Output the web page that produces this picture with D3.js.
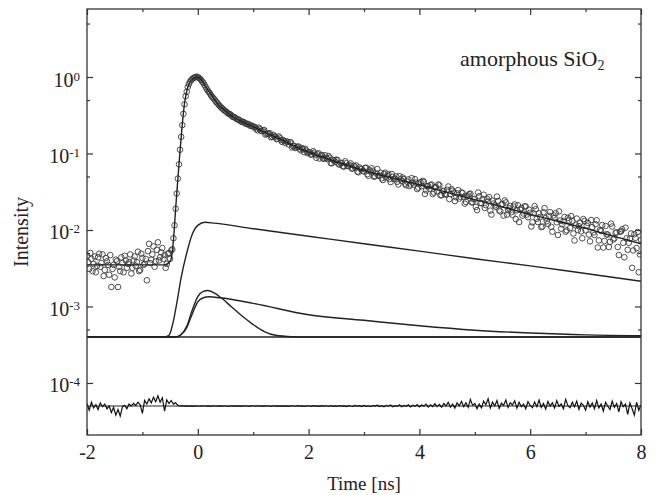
<!DOCTYPE html>
<html lang="en">
<head>
  <meta charset="UTF-8">
  <title>Decay of amorphous SiO2</title>
  <style>
    html, body { margin: 0; padding: 0; background: #fff; }
    svg { display: block; font-family: "Liberation Serif", "Times New Roman", serif; }
  </style>
</head>
<body>
  <svg id="svg" width="657" height="495"></svg>

  <script src="https://cdn.jsdelivr.net/npm/d3@7"></script>
  <script>
    // axis ticks
    const xTicks = [-2, 0, 2, 4, 6, 8];
    const xMinorTicks = [-1, 1, 3, 5, 7];
    const yTicks = [1, 1e-1, 1e-2, 1e-3, 1e-4];
    const yTickExp = ['0', '-1', '-2', '-3', '-4'];
    const yMinorTicks = [5, 0.5, 0.05, 0.005, 5e-4];

    // measured points, every 0.04 ns, two interleaved runs (offset 0.02 ns)
    const dataStep = 0.04;
    const preRiseT0 = -2.0;
    const preRise = [
      4.6e-3, 3.1e-3, 4.2e-3, 3.6e-3, 2.8e-3, 4.4e-3, 3.3e-3, 4.8e-3, 3.0e-3, 3.9e-3,
      2.6e-3, 1.8e-3, 3.5e-3, 4.1e-3, 1.8e-3, 2.9e-3, 3.7e-3, 4.6e-3, 3.2e-3, 3.8e-3,
      2.7e-3, 4.0e-3, 3.4e-3, 5.2e-3, 3.0e-3, 4.3e-3, 3.6e-3, 2.2e-3, 6.6e-3, 4.1e-3,
      6.1e-3, 3.9e-3, 6.9e-3, 4.4e-3, 5.8e-3, 4.7e-3, 3.6e-3, 5.0e-3, 5.4e-3
    ];
    const preRiseBT0 = -1.98;
    const preRiseB = [
      3.8e-3, 5.0e-3, 2.9e-3, 4.5e-3, 3.4e-3, 4.9e-3, 3.7e-3, 2.5e-3, 4.3e-3, 3.5e-3,
      4.7e-3, 3.1e-3, 2.4e-3, 3.9e-3, 3.3e-3, 4.4e-3, 2.8e-3, 4.0e-3, 3.6e-3, 4.8e-3,
      3.2e-3, 4.5e-3, 3.8e-3, 2.9e-3, 4.9e-3, 3.5e-3, 4.2e-3, 5.3e-3, 3.7e-3, 4.8e-3,
      3.3e-3, 5.5e-3, 4.0e-3, 5.1e-3, 4.2e-3, 3.2e-3, 4.9e-3, 4.2e-3, 5.6e-3
    ];
    const peakT0 = -0.44;
    const peak = [
      0.0078, 0.019, 0.047, 0.112, 0.235, 0.44, 0.64, 0.81, 0.91, 0.97,
      1.0, 0.99, 0.95, 0.87, 0.79, 0.70, 0.635, 0.575, 0.53, 0.485,
      0.45, 0.415, 0.39, 0.365, 0.35, 0.33, 0.318, 0.300, 0.292, 0.279,
      0.270, 0.258, 0.254, 0.243, 0.240, 0.229, 0.226
    ];
    const peakBT0 = -0.42;
    const peakB = [
      0.0115, 0.030, 0.072, 0.165, 0.33, 0.56, 0.74, 0.87, 0.94, 0.985,
      1.01, 0.975, 0.915, 0.84, 0.745, 0.665, 0.61, 0.55, 0.51, 0.465,
      0.43, 0.40, 0.378, 0.357, 0.337, 0.327, 0.305, 0.298, 0.283, 0.277,
      0.262, 0.259, 0.247, 0.244, 0.232, 0.231, 0.219
    ];
    const tailT0 = 1.04;
    const tail = [
      0.220, 0.201, 0.209, 0.195, 0.202, 0.180, 0.180, 0.163, 0.175, 0.167,
      0.156, 0.161, 0.142, 0.146, 0.144, 0.131, 0.140, 0.125, 0.118, 0.123,
      0.114, 0.118, 0.104, 0.109, 0.104, 0.0967, 0.107, 0.0964, 0.0982, 0.0860,
      0.0955, 0.0853, 0.0875, 0.0926, 0.0752, 0.0826, 0.0780, 0.0822, 0.0714, 0.0753,
      0.0676, 0.0744, 0.0687, 0.0742, 0.0639, 0.0657, 0.0579, 0.0659, 0.0627, 0.0582,
      0.0653, 0.0511, 0.0579, 0.0594, 0.0504, 0.0627, 0.0516, 0.0473, 0.0539, 0.0483,
      0.0537, 0.0423, 0.0496, 0.0468, 0.0427, 0.0506, 0.0441, 0.0462, 0.0384, 0.0458,
      0.0394, 0.0416, 0.0461, 0.0343, 0.0404, 0.0374, 0.0426, 0.0329, 0.0375, 0.0386,
      0.0295, 0.0364, 0.0321, 0.0385, 0.0285, 0.0322, 0.0290, 0.0370, 0.0295, 0.0326,
      0.0239, 0.0301, 0.0258, 0.0310, 0.0272, 0.0233, 0.0282, 0.0299, 0.0230, 0.0256,
      0.0182, 0.0276, 0.0226, 0.0289, 0.0211, 0.0236, 0.0179, 0.0241, 0.0210, 0.0273,
      0.0180, 0.0215, 0.0154, 0.0229, 0.0182, 0.0206, 0.0158, 0.0216, 0.0181, 0.0127,
      0.0194, 0.0164, 0.0203, 0.0147, 0.0168, 0.0126, 0.0205, 0.0140, 0.0165, 0.0109,
      0.0171, 0.0143, 0.0120, 0.0171, 0.0095, 0.0144, 0.0126, 0.0175, 0.0104, 0.0130,
      0.0095, 0.0144, 0.0106, 0.0132, 0.0073, 0.0141, 0.0112, 0.0096, 0.0139, 0.0099,
      0.0124, 0.0071, 0.0109, 0.0086, 0.0134, 0.0073, 0.0097, 0.0059, 0.0113, 0.0087,
      0.0070, 0.0111, 0.0078, 0.0093, 0.0047, 0.0096, 0.0068, 0.0107, 0.0055, 0.0077,
      0.0032, 0.0088, 0.0058, 0.0028, 0.0074
    ];
    const tailBT0 = 1.06;
    const tailB = [
      0.208, 0.218, 0.198, 0.201, 0.177, 0.184, 0.184, 0.166, 0.1665, 0.154,
      0.167, 0.150, 0.150, 0.137, 0.142, 0.140, 0.120, 0.126, 0.120, 0.123,
      0.110, 0.114, 0.115, 0.101,
      0.1034, 0.0975, 0.1023, 0.0878, 0.1006, 0.0939, 0.0864, 0.0949, 0.0845, 0.0881,
      0.0743, 0.0812, 0.0831, 0.0726, 0.0748, 0.0679, 0.0790, 0.0686, 0.0709, 0.0634,
      0.0692, 0.0697, 0.0568, 0.0626, 0.0595,
      0.0647, 0.0537, 0.0605, 0.0640, 0.0498, 0.0549, 0.0511, 0.0558, 0.0450, 0.0561,
      0.0515, 0.0462, 0.0539, 0.0463, 0.0502, 0.0394, 0.0461, 0.0485, 0.0403, 0.0427,
      0.0375, 0.0476, 0.0391, 0.0417, 0.0358,
      0.0423, 0.0438, 0.0296, 0.0374, 0.0346, 0.0394, 0.0309, 0.0364, 0.0393, 0.0284,
      0.0325, 0.0296, 0.0336, 0.0253, 0.0342, 0.0308, 0.0268, 0.0332, 0.0272, 0.0304,
      0.0221, 0.0275, 0.0295, 0.0231, 0.0252,
      0.0200, 0.0309, 0.0224, 0.0254, 0.0194, 0.0256, 0.0269, 0.0159, 0.0222, 0.0201,
      0.0240, 0.0175, 0.0219, 0.0243, 0.0159, 0.0192, 0.0171, 0.0203, 0.0139, 0.0210,
      0.0184, 0.0154, 0.0204, 0.0159, 0.0184,
      0.0111, 0.0165, 0.0187, 0.0127, 0.0148, 0.0111, 0.0193, 0.0130, 0.0153, 0.0110,
      0.0155, 0.0166, 0.0086, 0.0133, 0.0118, 0.0148, 0.0099, 0.0133, 0.0152, 0.0090,
      0.0115, 0.0100, 0.0124, 0.0078, 0.0131,
      0.0114, 0.0087, 0.0135, 0.0093, 0.0119, 0.0059, 0.0100, 0.0116, 0.0072, 0.0088,
      0.0060, 0.0121, 0.0075, 0.0092, 0.0060, 0.0095, 0.0102, 0.0044, 0.0078, 0.0068,
      0.0090, 0.0054, 0.0079, 0.0094, 0.0048
    ];

    // fitted sum curve
    const fitT = [-2, -0.6, -0.5, -0.46, -0.43, -0.40, -0.36, -0.32, -0.28, -0.24, -0.20, -0.16, -0.12, -0.06,
      -0.02, 0.04, 0.10, 0.16, 0.22, 0.30, 0.40, 0.50, 0.64, 0.80, 0.94, 1.0, 1.25, 1.5, 1.75, 2,
      2.5, 3, 3.5, 4, 4.5, 5, 5.5, 6, 6.5, 7, 7.5, 8];
    const fitI = [3.5e-3, 3.5e-3, 3.9e-3, 5.2e-3, 9e-3, 1.9e-2, 4.6e-2, 0.11, 0.24, 0.45, 0.65, 0.81, 0.91, 0.98,
      1.0, 0.96, 0.84, 0.71, 0.62, 0.51, 0.415, 0.36, 0.30, 0.26, 0.235, 0.224, 0.183, 0.152, 0.124, 0.104,
      0.078, 0.060, 0.048, 0.039, 0.031, 0.025, 0.020, 0.016, 0.013, 0.0105, 0.0083, 0.0066];

    // decay components (offset 4e-4)
    const compBase = 4e-4;
    const compAT = [-2, -0.6, -0.52, -0.45, -0.38, -0.3, -0.2, -0.1, 0.0, 0.13, 0.3, 1, 2, 3, 4, 5, 6, 7, 8];
    const compAI = [4e-4, 4e-4, 4.2e-4, 6e-4, 1.1e-3, 2.4e-3, 5e-3, 8.8e-3, 1.15e-2, 1.26e-2, 1.23e-2,
      1.04e-2, 8.3e-3, 6.6e-3, 5.3e-3, 4.2e-3, 3.4e-3, 2.7e-3, 2.14e-3];
    const compBT = [-2, -0.4, -0.3, -0.2, -0.1, 0.0, 0.1, 0.18, 0.3, 0.45, 0.6, 0.8, 1.0, 1.2, 1.4, 1.7, 2, 8];
    const compBI = [4e-4, 4e-4, 4.3e-4, 5.5e-4, 9e-4, 1.35e-3, 1.58e-3, 1.62e-3, 1.5e-3, 1.25e-3, 1.0e-3,
      7.5e-4, 5.8e-4, 4.7e-4, 4.2e-4, 4.03e-4, 4e-4, 4e-4];
    const compCT = [-2, -0.4, -0.3, -0.2, -0.1, 0.0, 0.1, 0.2, 0.4, 1, 2, 3, 4, 5, 6, 7, 8];
    const compCI = [4e-4, 4e-4, 4.3e-4, 5.3e-4, 8e-4, 1.15e-3, 1.3e-3, 1.34e-3, 1.3e-3, 1.1e-3, 7.8e-4,
      6.6e-4, 5.6e-4, 4.9e-4, 4.5e-4, 4.25e-4, 4.15e-4];

    // residual trace, in units of 1e-5, every 0.04 ns from -2
    const residUnit = 1e-5;
    const residBase = 5.0;
    const residT0 = -2.0;
    const resid = [
      5.4, 4.4, 5.6, 4.7, 5.2, 4.5, 5.5, 4.9, 5.3, 4.6,
      5.0, 4.1, 4.8, 3.8, 4.5, 3.7, 4.9, 5.1, 4.6, 5.3,
      5.0, 5.4, 5.1, 5.6, 5.2, 4.0, 5.9, 5.3, 6.2, 5.5,
      6.5, 5.7, 6.8, 5.6, 6.4, 4.3, 6.0, 5.4, 5.9, 5.3,
      5.5, 5.1, 5.0, 5.05, 4.97, 5.03, 4.98, 5.02, 4.96, 5.01,
      5.0, 4.97, 5.03, 5.0, 4.98, 5.02, 4.96, 5.04, 5.0, 4.98,
      5.03, 4.97, 5.01, 5.0, 4.96, 5.04, 4.99, 5.02, 4.97, 5.01,
      4.98, 5.03, 5.0, 4.96, 5.02, 5.0, 4.97, 5.04, 4.99, 5.01,
      4.97, 5.02, 5.0, 4.95, 5.04, 4.98, 5.02, 4.97, 5.03, 4.99,
      5.01, 4.96, 5.03, 5.0, 4.97, 5.05, 4.98, 5.02, 4.96, 5.03,
      5.0, 4.94, 5.06, 4.98, 5.03, 4.95, 5.05, 4.99, 5.04, 4.93,
      5.06, 4.97, 5.02, 4.94, 5.07, 4.98, 5.03, 4.92, 5.06, 5.0,
      4.95, 5.08, 4.97, 5.04, 4.92, 5.1, 4.96, 5.03, 4.9, 5.07,
      4.98, 5.12, 4.93, 5.05, 4.88, 5.1, 4.97, 5.15, 4.9, 5.06,
      4.94, 5.18, 4.9, 5.08, 4.96, 5.2, 4.86, 5.12, 4.95, 5.22,
      4.88, 5.15, 4.98, 5.3, 4.85, 5.2, 4.92, 5.35, 4.9, 5.25,
      4.82, 5.4, 5.0, 5.6, 4.85, 5.3, 4.7, 5.5, 5.05, 5.75,
      4.9, 5.5, 4.8, 6.1, 5.1, 5.4, 4.6, 5.3, 4.75, 5.8,
      5.2, 6.2, 4.7, 5.6, 5.0, 5.9, 4.65, 5.45, 5.1, 6.0,
      4.8, 5.5, 5.15, 5.85, 4.7, 5.6, 4.9, 5.3, 4.6, 5.7,
      5.1, 4.75, 5.65, 4.9, 6.0, 4.8, 5.4, 4.55, 5.75, 5.0,
      5.5, 4.7, 5.9, 4.95, 5.35, 4.6, 6.1, 5.05, 4.75, 5.6,
      4.9, 5.8, 4.5, 5.45, 5.1, 4.4, 5.7, 4.85, 5.5, 4.6,
      5.9, 4.7, 5.3, 4.3, 5.6, 5.0, 4.5, 5.8, 4.8, 5.4,
      4.2, 5.7, 4.9, 5.3, 3.9, 5.5, 4.6, 3.8, 5.6, 4.4,
      5.2
    ];

    const margin = { top: 9, right: 16, bottom: 60, left: 87 };
    const width = 657 - margin.left - margin.right;
    const height = 495 - margin.top - margin.bottom;
    const ink = '#222';

    const svg = d3.select('#svg')
      .append('g')
      .attr('transform', `translate(${margin.left},${margin.top})`);

    const x = d3.scaleLinear().domain([-2, 8]).range([0, width]);
    const y = d3.scaleLog().domain([Math.pow(10, -4.68), Math.pow(10, 0.889)]).range([height, 0]);

    svg.append('clipPath').attr('id', 'clip')
      .append('rect').attr('width', width).attr('height', height);

    const plot = svg.append('g').attr('clip-path', 'url(#clip)');

    const toPts = (t0, vals, k = 1) => vals.map((v, i) => [t0 + i * dataStep, v * k]);
    const scatter = [].concat(
      toPts(preRiseT0, preRise), toPts(preRiseBT0, preRiseB),
      toPts(peakT0, peak), toPts(peakBT0, peakB),
      toPts(tailT0, tail), toPts(tailBT0, tailB)
    );
    const zip = (ts, vs) => ts.map((t, i) => [t, vs[i]]);

    const line = d3.line()
      .x(d => x(d[0]))
      .y(d => y(d[1]))
      .curve(d3.curveMonotoneX);

    // component baseline
    plot.append('line')
      .attr('x1', 0).attr('x2', width)
      .attr('y1', y(compBase)).attr('y2', y(compBase))
      .attr('stroke', ink).attr('stroke-width', 1.4);

    [zip(compAT, compAI), zip(compBT, compBI), zip(compCT, compCI)].forEach(c => {
      plot.append('path')
        .attr('d', line(c))
        .attr('fill', 'none')
        .attr('stroke', ink)
        .attr('stroke-width', 1.4);
    });

    // residuals
    plot.append('line')
      .attr('x1', 0).attr('x2', width)
      .attr('y1', y(residBase * residUnit)).attr('y2', y(residBase * residUnit))
      .attr('stroke', ink).attr('stroke-width', 1);

    plot.append('path')
      .attr('d', d3.line().x(d => x(d[0])).y(d => y(d[1]))(toPts(residT0, resid, residUnit)))
      .attr('fill', 'none')
      .attr('stroke', '#111')
      .attr('stroke-width', 1.2);

    // data points
    plot.selectAll('.pt')
      .data(scatter)
      .enter()
      .append('circle')
      .attr('class', 'pt')
      .attr('cx', d => x(d[0]))
      .attr('cy', d => y(d[1]))
      .attr('r', 2.8)
      .attr('fill', 'none')
      .attr('stroke', '#3a3a3a')
      .attr('stroke-width', 0.9);

    // fit
    plot.append('path')
      .attr('d', line(zip(fitT, fitI)))
      .attr('fill', 'none')
      .attr('stroke', ink)
      .attr('stroke-width', 1.4);

    // axes: ticks point inwards on all four sides
    const tickStyle = g => {
      g.select('.domain').remove();
      g.selectAll('line').attr('stroke', '#333').attr('stroke-width', 1.2);
      g.selectAll('text').attr('fill', ink).style('font-family', '"Liberation Serif", serif');
    };

    svg.append('g')
      .attr('transform', `translate(0,${height})`)
      .call(d3.axisBottom(x).tickValues(xTicks).tickSize(-6).tickPadding(10).tickFormat(d => String(d)))
      .call(tickStyle)
      .call(g => g.selectAll('text').style('font-size', '20px'));
    svg.append('g')
      .attr('transform', `translate(0,${height})`)
      .call(d3.axisBottom(x).tickValues(xMinorTicks).tickSize(-3).tickFormat(''))
      .call(tickStyle);
    svg.append('g')
      .call(d3.axisTop(x).tickValues(xTicks).tickSize(-6).tickFormat(''))
      .call(tickStyle);
    svg.append('g')
      .call(d3.axisTop(x).tickValues(xMinorTicks).tickSize(-3).tickFormat(''))
      .call(tickStyle);

    const yAxis = svg.append('g')
      .call(d3.axisLeft(y).tickValues(yTicks).tickSize(-6).tickPadding(7))
      .call(tickStyle);
    yAxis.selectAll('.tick text')
      .text(null)
      .attr('dy', '0.45em')
      .style('font-size', '20px')
      .each(function (d, i) {
        const t = d3.select(this);
        t.append('tspan').text('10');
        t.append('tspan').attr('dy', -6).style('font-size', '13px').text(yTickExp[i]);
      });
    svg.append('g')
      .call(d3.axisLeft(y).tickValues(yMinorTicks).tickSize(-3).tickFormat(''))
      .call(tickStyle);
    svg.append('g')
      .attr('transform', `translate(${width},0)`)
      .call(d3.axisRight(y).tickValues(yTicks).tickSize(-6).tickFormat(''))
      .call(tickStyle);
    svg.append('g')
      .attr('transform', `translate(${width},0)`)
      .call(d3.axisRight(y).tickValues(yMinorTicks).tickSize(-3).tickFormat(''))
      .call(tickStyle);

    // frame
    svg.append('rect')
      .attr('width', width)
      .attr('height', height)
      .attr('fill', 'none')
      .attr('stroke', '#333')
      .attr('stroke-width', 1.3);

    svg.append('text')
      .attr('x', width / 2)
      .attr('y', height + 55)
      .attr('text-anchor', 'middle')
      .attr('fill', ink)
      .style('font-size', '19px')
      .text('Time [ns]');

    svg.append('text')
      .attr('transform', `translate(${28 - margin.left},${232 - margin.top}) rotate(-90)`)
      .attr('text-anchor', 'middle')
      .attr('fill', ink)
      .style('font-size', '20px')
      .text('Intensity');

    const note = svg.append('text')
      .attr('x', 460 - margin.left)
      .attr('y', 66 - margin.top)
      .attr('fill', ink)
      .style('font-size', '22px');
    note.append('tspan').text('amorphous  SiO');
    note.append('tspan').attr('dy', 4).style('font-size', '14px').text('2');
  </script>
</body>
</html>
